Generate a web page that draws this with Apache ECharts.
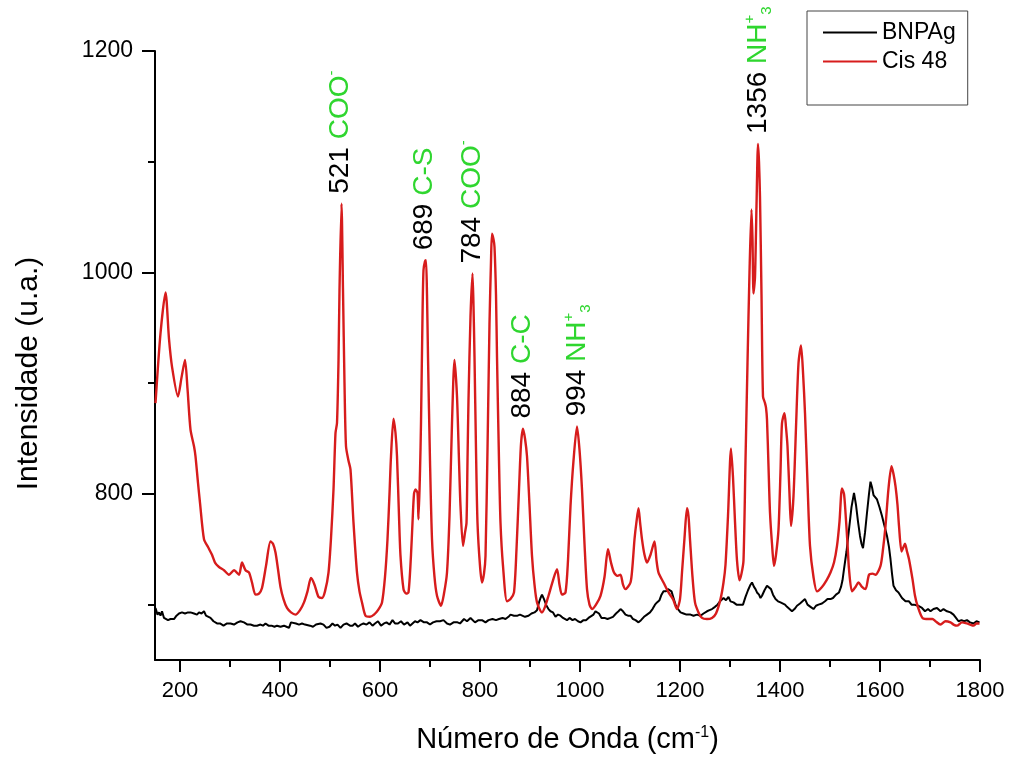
<!DOCTYPE html>
<html><head><meta charset="utf-8">
<script src="https://cdn.jsdelivr.net/npm/echarts@6/dist/echarts.min.js"></script>
<style>html,body{margin:0;padding:0;background:#fff}#c{width:1009px;height:760px}</style>
</head><body><div id="c"></div>
<script>
// Cis 48 (red) spectrum: wavenumber / intensity
const cisX = [151,161,171,178,184,196,203,210,215,221,228,231,236,240,248,256,264,270,278,288,298,308,318,324,331,338,344,351,358,364,372,381,386,391,396,401,407,414,422,431,440,448,455,462,469,477,484,490,497,502,507,511,514,517,519,523,526,529,532,537,541,547,554,559,564,571,580,588,596,604,610,615,619,622,627,631,634,638,641,647,652,657,662,665,668,671,675,677,680,682,685,687,690,692,694,696,700,704,709,714,722,728,734,739,744,749,754,758,761,766,770,773,775,777,781,785,787,789,792,795,800,804,808,811,815,819,822,824,827,829,832,834,838,841,846,854,861,868,873,878,882,886,890,894,899,904,909,914,924,930,937,946,954,959,964,971,976,981,987,994,999,1004,1009,1014,1019,1024,1032,1041,1049,1056,1062,1068,1075,1081,1086,1091,1101,1105,1109,1113,1117,1120,1124,1129,1134,1141,1149,1153,1157,1167,1177,1186,1194,1200,1204,1209,1214,1217,1220,1225,1230,1237,1244,1254,1264,1272,1281,1287,1291,1296,1302,1306,1310,1314,1319,1323,1327,1331,1335,1339,1343,1345,1347,1350,1353,1356,1358,1360,1363,1366,1370,1372,1374,1377,1380,1384,1388,1392,1397,1401,1404,1409,1412,1415,1419,1422,1427,1432,1437,1442,1446,1450,1455,1460,1467,1474,1484,1493,1501,1508,1514,1519,1524,1528,1531,1535,1538,1544,1551,1557,1564,1571,1578,1585,1591,1601,1606,1611,1617,1623,1627,1631,1635,1638,1643,1647,1650,1654,1658,1665,1670,1675,1685,1698,1705,1711,1721,1731,1741,1747,1754,1764,1774,1780,1787,1793,1799];
const cisY = [882,945,982,940,915,888,905,921,895,858,843,834,810,792,759,752,745,738,734,731,727,731,727,738,731,729,720,709,710,715,735,757,755,747,732,716,705,697,693,691,695,702,712,724,718,707,706,712,729,760,804,855,864,920,984,1062,984,900,843,830,822,774,729,712,702,690,689,691,695,702,725,759,800,834,868,855,834,780,744,714,710,711,745,774,800,804,801,777,820,864,960,1002,1010,1011,980,924,830,759,725,708,699,710,729,780,864,921,888,830,789,753,765,774,830,885,960,999,970,924,840,774,735,720,728,744,840,954,1010,1035,1030,1023,980,924,830,774,735,703,705,711,750,804,845,859,850,834,790,744,718,702,693,698,708,722,732,718,709,711,740,789,830,861,840,804,755,714,700,696,700,708,725,750,738,729,726,727,718,714,720,735,759,775,787,775,759,745,738,745,757,740,729,720,711,705,696,705,729,760,787,780,759,725,702,693,688,687,688,692,705,720,736,780,841,815,775,740,722,728,740,830,918,1000,1057,1030,981,996,1060,1116,1100,1068,980,888,882,878,867,825,783,755,735,745,768,820,864,873,860,843,800,771,798,860,918,934,910,873,810,753,725,712,716,722,729,738,753,775,805,800,783,755,732,712,716,720,716,714,727,728,727,735,750,771,805,825,818,807,790,771,748,752,755,748,741,723,708,699,688,687,687,685,682,685,684,682,681,684,683,682,681,683,683];
// BNPAg (black) spectrum
const bnpX = [151,155,158,161,164,168,171,176,181,188,193,198,204,210,216,221,228,234,238,243,248,252,256,261,267,274,280,287,294,301,308,315,321,328,335,341,348,354,361,366,371,377,383,389,394,401,408,413,418,422,426,432,438,444,450,454,460,466,472,476,481,487,493,499,505,510,515,521,527,533,540,545,550,556,562,567,573,579,585,590,596,602,608,613,619,625,630,636,642,648,655,660,665,670,675,681,688,694,700,706,713,720,727,734,740,747,755,760,768,774,781,790,797,804,811,817,825,832,838,845,851,857,861,868,875,880,884,890,897,903,909,914,918,921,924,928,933,937,941,946,951,956,961,966,970,974,979,985,990,996,1001,1007,1012,1017,1021,1027,1031,1034,1038,1043,1049,1055,1061,1066,1072,1077,1081,1086,1091,1096,1101,1106,1111,1117,1122,1128,1134,1140,1145,1150,1154,1159,1163,1167,1172,1176,1179,1183,1187,1191,1196,1201,1207,1213,1221,1227,1234,1241,1247,1254,1259,1264,1270,1275,1280,1287,1292,1297,1301,1307,1313,1317,1321,1326,1331,1336,1341,1344,1348,1351,1354,1358,1361,1364,1369,1374,1378,1382,1386,1391,1396,1401,1405,1410,1414,1418,1424,1429,1434,1440,1445,1450,1455,1461,1467,1472,1477,1484,1490,1495,1501,1506,1512,1518,1522,1525,1528,1533,1538,1543,1548,1552,1556,1560,1563,1566,1570,1574,1578,1581,1584,1587,1590,1594,1599,1604,1609,1614,1618,1621,1624,1627,1632,1637,1644,1651,1658,1663,1668,1676,1684,1690,1696,1701,1707,1714,1721,1727,1734,1741,1747,1752,1757,1763,1768,1774,1780,1787,1793,1799];
const bnpY = [697,691,693,690,694,688,689,686,687,687,690,692,693,692,693,693,692,691,693,692,694,690,691,688,685,683,683,681,683,683,682,684,685,684,682,682,681,681,682,681,683,681,681,680,681,680,681,680,679,684,683,683,682,683,682,683,681,680,682,681,683,682,679,680,683,681,682,679,682,683,681,681,683,680,682,683,682,684,681,683,685,681,683,684,682,686,683,683,685,682,684,681,683,685,684,686,684,684,682,684,685,685,686,683,682,684,684,683,687,685,688,684,686,686,684,686,687,686,687,688,687,689,691,690,690,691,690,689,690,692,693,695,702,706,709,705,699,696,694,693,689,691,690,688,687,686,688,686,687,685,684,686,686,688,688,691,694,694,692,688,688,687,688,689,692,694,696,694,691,690,690,687,686,684,686,689,691,693,696,700,702,704,709,712,712,714,715,712,706,700,696,693,692,691,691,690,691,690,692,694,695,696,698,700,703,706,704,707,703,702,700,701,700,700,707,713,718,720,716,714,711,709,706,708,713,717,718,714,709,705,703,702,702,700,698,698,694,696,699,701,703,705,700,698,696,699,700,701,703,705,705,706,709,711,716,722,732,748,768,788,801,790,775,762,755,751,765,783,800,811,806,799,800,795,788,780,771,762,752,741,728,717,713,711,706,703,703,700,700,699,697,694,696,694,696,697,694,696,694,693,691,688,685,686,685,686,684,683,685,684];
// Peak annotations
const annoX = [521, 689, 784, 884, 994, 1356];
const annoY = [1062, 1011, 999, 859, 861, 1116];
const annoNum = ['521', '689', '784', '884', '994', '1356'];
const annoText = ['{g|COO}{sup|-}', '{g|C-S}', '{g|COO}{sup|-}', '{g|C-C}', '{g|NH}{sup|+}{sub|3}', '{g|NH}{sup|+}{sub|3}'];
// Axis ticks
const xMajor = [200, 400, 600, 800, 1000, 1200, 1400, 1600, 1800];
const xMinor = [300, 500, 700, 900, 1100, 1300, 1500, 1700];
const yMajor = [800, 1000, 1200];
const yMinor = [700, 900, 1100];

const zip = (a, b) => a.map((v, i) => [v, b[i]]);
const FONT = 'Liberation Sans, Arial, sans-serif';
const GREEN = '#2fd62f';
const RED = '#d71c1c';
const plain = v => String(v);

const chart = echarts.init(document.getElementById('c'), null, {renderer: 'canvas'});
const axisCommon = {
  type: 'value', splitLine: {show: false},
  axisLine: {show: true, onZero: false, lineStyle: {color: '#000', width: 2}},
};
chart.setOption({
  backgroundColor: '#fff',
  animation: false,
  textStyle: {fontFamily: FONT},
  grid: {left: 155, right: 29, top: 51, bottom: 100},
  legend: {
    data: [{name: 'BNPAg', icon: 'rect'}, {name: 'Cis 48', icon: 'rect'}],
    orient: 'vertical', left: 807, top: 11,
    padding: [10, 12, 32, 16], itemWidth: 54, itemHeight: 2, itemGap: 6,
    borderColor: '#444', borderWidth: 1, borderRadius: 0,
    textStyle: {fontSize: 23, color: '#000', fontFamily: FONT, lineHeight: 23}
  },
  xAxis: [
    Object.assign({}, axisCommon, {
      min: 150, max: 1800, position: 'bottom',
      name: 'Número de Onda (cm{sup|-1})', nameLocation: 'middle', nameGap: 65,
      nameTextStyle: {fontSize: 29, color: '#000', fontFamily: FONT,
        rich: {sup: {fontSize: 16, verticalAlign: 'top', lineHeight: 29, color: '#000', fontFamily: FONT}}},
      axisTick: {show: true, customValues: xMajor, length: 12, lineStyle: {color: '#000', width: 2}},
      axisLabel: {customValues: xMajor, formatter: plain, fontSize: 22, color: '#000', margin: 20, fontFamily: FONT}
    }),
    Object.assign({}, axisCommon, {
      min: 150, max: 1800, position: 'bottom', axisLine: {show: false},
      axisTick: {show: true, customValues: xMinor, length: 7, lineStyle: {color: '#000', width: 2}},
      axisLabel: {show: false}
    })
  ],
  yAxis: [
    Object.assign({}, axisCommon, {
      min: 650, max: 1200, position: 'left',
      name: 'Intensidade (u.a.)', nameLocation: 'middle', nameGap: 111,
      nameTextStyle: {fontSize: 30, color: '#000', fontFamily: FONT, padding: [0, 36, 0, 0]},
      axisTick: {show: true, customValues: yMajor, length: 13, lineStyle: {color: '#000', width: 2}},
      axisLabel: {customValues: yMajor, formatter: plain, fontSize: 23, color: '#000', margin: 22, fontFamily: FONT}
    }),
    Object.assign({}, axisCommon, {
      min: 650, max: 1200, position: 'left', axisLine: {show: false},
      axisTick: {show: true, customValues: yMinor, length: 7, lineStyle: {color: '#000', width: 2}},
      axisLabel: {show: false}
    })
  ],
  series: [
    {
      name: 'BNPAg', type: 'line', data: zip(bnpX, bnpY), symbol: 'none', showSymbol: false,
      lineStyle: {color: '#000', width: 2}, itemStyle: {color: '#000'}, z: 2
    },
    {
      name: 'Cis 48', type: 'line', data: zip(cisX, cisY), symbol: 'none', showSymbol: false,
      smooth: 0.25,
      lineStyle: {color: RED, width: 2.4}, itemStyle: {color: RED}, z: 3,
      markPoint: {
        symbol: 'circle', symbolSize: 0, silent: true,
        data: annoX.map((x, i) => ({
          coord: [x, annoY[i]],
          label: {
            show: true, position: 'top', distance: 10, rotate: 90,
            align: 'left', verticalAlign: 'middle',
            formatter: '{n|' + annoNum[i] + '} ' + annoText[i],
            fontSize: 28, color: '#000', fontFamily: FONT,
            rich: {
              n: {fontSize: 28, color: '#000', fontFamily: FONT, lineHeight: 32},
              g: {fontSize: 28, color: GREEN, fontFamily: FONT, lineHeight: 32},
              sup: {fontSize: 15, color: GREEN, fontFamily: FONT, verticalAlign: 'top', lineHeight: 32},
              sub: {fontSize: 15, color: GREEN, fontFamily: FONT, verticalAlign: 'bottom', lineHeight: 32}
            }
          }
        }))
      }
    }
  ]
});
</script>
</body></html>
